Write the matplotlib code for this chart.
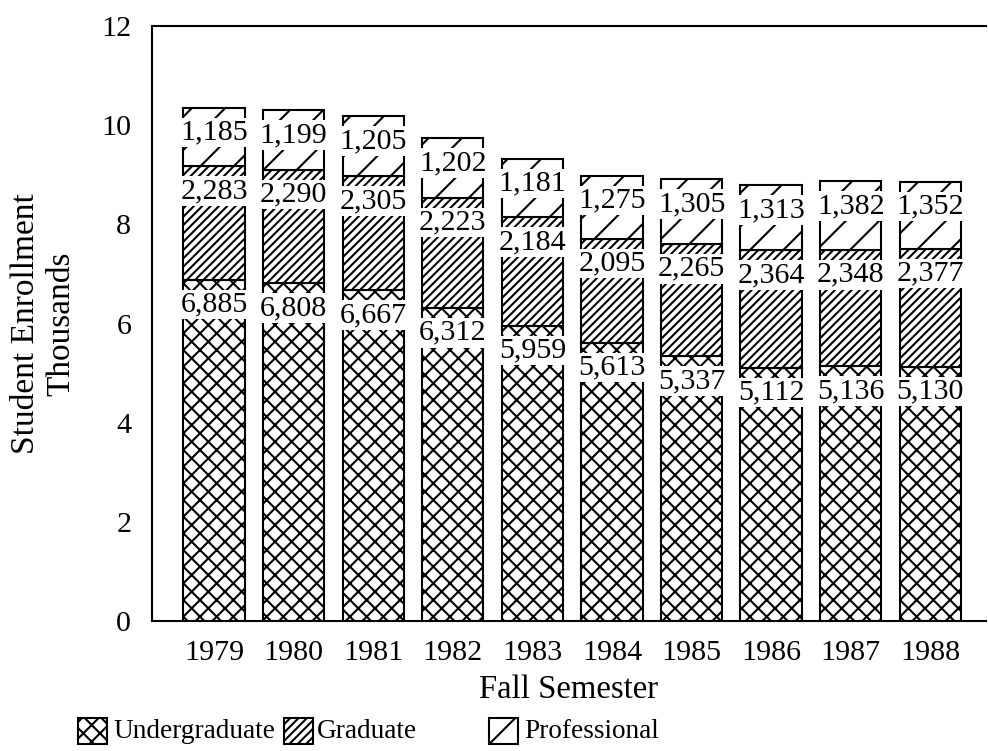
import matplotlib
matplotlib.use('Agg')
import matplotlib.pyplot as plt
from matplotlib.patches import Rectangle
import numpy as np

# Enrollment in thousands, fall semesters
years = ['1979', '1980', '1981', '1982', '1983', '1984', '1985', '1986', '1987', '1988']
undergraduate = [6.885, 6.808, 6.667, 6.312, 5.959, 5.613, 5.337, 5.112, 5.136, 5.130]
graduate = [2.283, 2.290, 2.305, 2.223, 2.184, 2.095, 2.265, 2.364, 2.348, 2.377]
professional = [1.185, 1.199, 1.205, 1.202, 1.181, 1.275, 1.305, 1.313, 1.382, 1.352]
y_ticks = [0, 2, 4, 6, 8, 10, 12]

DPI = 200
FS = 10.8
plt.rcParams['font.family'] = ['Liberation Serif', 'DejaVu Serif']
plt.rcParams['hatch.linewidth'] = 0.75
plt.rcParams['hatch.color'] = 'black'

# hatch strings picked by eye against the scan's line spacing
HATCH_UNDER = 'xxxx'
HATCH_GRAD = '////////'
HATCH_PROF = '//'

fig = plt.figure(figsize=(988 / DPI, 751 / DPI), dpi=DPI)
fig.patch.set_facecolor('white')
ax = fig.add_axes([152 / 988, 1 - 621 / 751, (986 - 152) / 988, (621 - 26) / 751])

x = np.arange(len(years))
w = 0.77
under = np.array(undergraduate)
grad = np.array(graduate)
prof = np.array(professional)

series = [
    ('Undergraduate', under, np.zeros(len(x)), HATCH_UNDER),
    ('Graduate', grad, under, HATCH_GRAD),
    ('Professional', prof, under + grad, HATCH_PROF),
]

for name, vals, base, hatch in series:
    ax.bar(x, vals, w, bottom=base, color='white', edgecolor='black',
           linewidth=0.75, hatch=hatch, zorder=2)
    # value labels sit in a white box just under each segment's top edge
    for i, v in enumerate(vals):
        ax.text(x[i], base[i] + v - 0.5, f'{int(round(v * 1000)):,}',
                ha='center', va='center', fontsize=FS, color='black', zorder=4,
                bbox=dict(facecolor='white', edgecolor='none', pad=0.6))

ax.set_xlim(-0.78, 9.70)
ax.set_ylim(0, 12)
ax.set_yticks(y_ticks)
ax.set_yticklabels([str(t) for t in y_ticks], fontsize=FS)
ax.set_xticks(x)
ax.set_xticklabels(years, fontsize=FS)
ax.tick_params(axis='both', length=0)
ax.tick_params(axis='y', pad=7.5)
ax.tick_params(axis='x', pad=6.8)

for side in ['left', 'top', 'bottom']:
    ax.spines[side].set_linewidth(0.75)
ax.spines['right'].set_visible(False)

ax.set_xlabel('Fall Semester', fontsize=11.8, labelpad=3)
ax.set_ylabel('Student Enrollment\nThousands', fontsize=12, labelpad=9,
              multialignment='center', linespacing=1.2)

# legend drawn by hand: uneven spacing in the original
legend_items = [('Undergraduate', HATCH_UNDER, 78, 113),
                ('Graduate', HATCH_GRAD, 284, 317),
                ('Professional', HATCH_PROF, 489, 524)]
for label, hatch, px, tx in legend_items:
    fig.add_artist(Rectangle((px / 988, 1 - 744 / 751), 29 / 988, 26 / 751,
                             transform=fig.transFigure, facecolor='white',
                             edgecolor='black', linewidth=0.75, hatch=hatch))
    fig.text(tx / 988, 1 - 731 / 751, label, fontsize=9.8, va='center', ha='left')

fig.savefig('out.png', dpi=DPI, facecolor='white')
